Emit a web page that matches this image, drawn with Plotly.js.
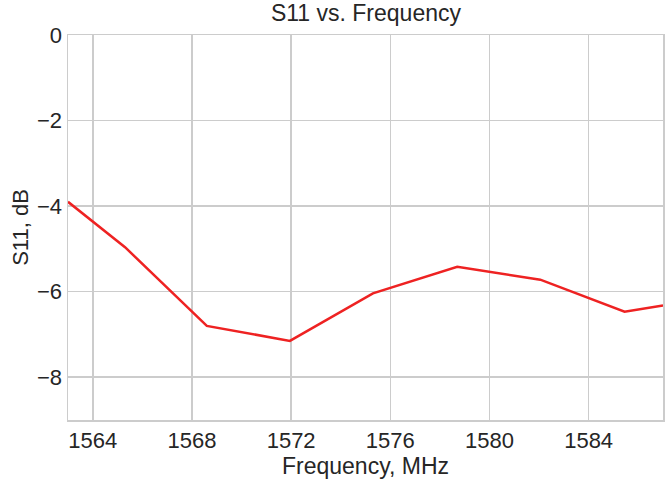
<!DOCTYPE html>
<html>
<head>
<meta charset="utf-8">
<script src="https://cdn.plot.ly/plotly-3.0.1.min.js"></script>
<style>html,body{margin:0;padding:0;background:#fff;}#chart{width:669px;height:479px;}</style>
</head>
<body>
<div id="chart"></div>
<script>
const frequencyMHz = [1563, 1565.3, 1568.6, 1571.95, 1575.3, 1578.7, 1582.05, 1585.45, 1587];
const s11dB = [-3.9, -4.96, -6.8, -7.15, -6.04, -5.42, -5.72, -6.47, -6.32];
const xTicks = [1564, 1568, 1572, 1576, 1580, 1584];
const yTicks = [0, -2, -4, -6, -8];

const font = 'Liberation Sans, Arial, Helvetica, sans-serif';
const trace = {
  x: frequencyMHz, y: s11dB, type: 'scatter', mode: 'lines',
  line: {color: '#ee2222', width: 2.5}, hoverinfo: 'skip'
};
const layout = {
  width: 669, height: 479,
  margin: {l: 68, r: 6, t: 35, b: 59},
  paper_bgcolor: '#ffffff', plot_bgcolor: '#ffffff',
  showlegend: false,
  font: {family: font, color: '#262626', size: 22},
  title: {text: 'S11 vs. Frequency', font: {family: font, size: 23, color: '#262626'}, x: 0.547, xanchor: 'center', yref: 'container', y: 0.99, yanchor: 'top'},
  xaxis: {
    range: [1563, 1587], tickvals: xTicks, ticktext: xTicks.map(String),
    showgrid: true, gridcolor: '#cccccc', gridwidth: 1.5, zeroline: false,
    showline: true, linecolor: '#cccccc', linewidth: 1.5, mirror: true,
    ticks: '', tickfont: {family: font, size: 22, color: '#262626'},
    title: {text: 'Frequency, MHz', font: {family: font, size: 23, color: '#262626'}, standoff: 2}
  },
  yaxis: {
    range: [-9, 0], tickvals: yTicks,
    showgrid: true, gridcolor: '#cccccc', gridwidth: 1.5, zeroline: false,
    showline: true, linecolor: '#cccccc', linewidth: 1.5, mirror: true,
    ticks: '', tickfont: {family: font, size: 22, color: '#262626'},
    title: {text: 'S11, dB', font: {family: font, size: 22, color: '#262626'}, standoff: 2}
  }
};
Plotly.newPlot('chart', [trace], layout, {displayModeBar: false, staticPlot: true});
</script>
</body>
</html>
